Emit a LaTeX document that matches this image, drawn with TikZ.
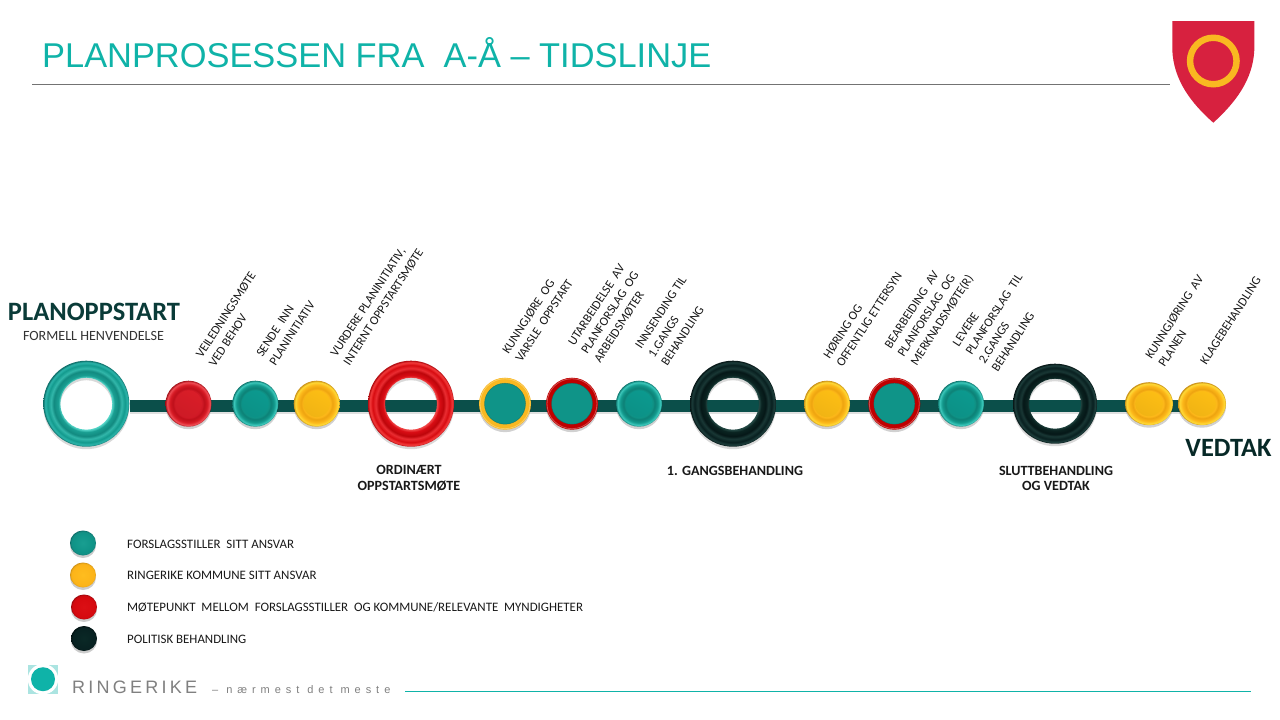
\documentclass[tikz,border=0pt]{standalone}
\usepackage{fontspec}
\setmainfont{Carlito}
\newfontfamily\titlefont{Liberation Sans}
\newfontfamily\logofont[LetterSpace=18]{Liberation Sans}
\newfontfamily\logosmall[LetterSpace=45]{Liberation Sans}
\usetikzlibrary{shapes.geometric}
\definecolor{trackc}{HTML}{0B4F4A}
\definecolor{titlec}{HTML}{0FB3A8}
\definecolor{darkt}{HTML}{0A3B38}
\definecolor{shieldred}{HTML}{D7213F}
\definecolor{shieldyel}{HTML}{F9B821}
\definecolor{tealbase}{HTML}{0F9488}
\pgfdeclareradialshading{tealbtn}{\pgfpointorigin}{
 rgb(0bp)=(0.06,0.58,0.53);rgb(15bp)=(0.06,0.58,0.53);
 rgb(17bp)=(0.05,0.50,0.46);rgb(20.5bp)=(0.07,0.60,0.55);
 rgb(23.5bp)=(0.25,0.80,0.75);rgb(25bp)=(0.05,0.45,0.42);rgb(50bp)=(0.05,0.45,0.42)}
\pgfdeclareradialshading{yelbtn}{\pgfpointorigin}{
 rgb(0bp)=(0.99,0.72,0.10);rgb(15bp)=(0.99,0.72,0.10);
 rgb(17bp)=(0.93,0.64,0.06);rgb(20.5bp)=(0.99,0.72,0.10);
 rgb(23.5bp)=(1.0,0.86,0.22);rgb(25bp)=(0.78,0.55,0.08);rgb(50bp)=(0.78,0.55,0.08)}
\pgfdeclareradialshading{redbtn}{\pgfpointorigin}{
 rgb(0bp)=(0.82,0.10,0.15);rgb(15bp)=(0.82,0.10,0.15);
 rgb(17bp)=(0.74,0.06,0.10);rgb(20.5bp)=(0.84,0.10,0.14);
 rgb(23.5bp)=(0.95,0.32,0.35);rgb(25bp)=(0.62,0.05,0.08);rgb(50bp)=(0.62,0.05,0.08)}
\pgfdeclareradialshading{tealball}{\pgfpointorigin}{
 rgb(0bp)=(0.10,0.62,0.57);rgb(19bp)=(0.06,0.58,0.53);rgb(23bp)=(0.08,0.56,0.52);rgb(25bp)=(0.04,0.42,0.40);rgb(50bp)=(0.04,0.42,0.40)}
\pgfdeclareradialshading{yelball}{\pgfpointorigin}{
 rgb(0bp)=(1.0,0.74,0.12);rgb(19bp)=(0.99,0.71,0.10);rgb(23bp)=(0.98,0.70,0.10);rgb(25bp)=(0.80,0.56,0.08);rgb(50bp)=(0.80,0.56,0.08)}
\pgfdeclareradialshading{redball}{\pgfpointorigin}{
 rgb(0bp)=(0.86,0.06,0.08);rgb(19bp)=(0.84,0.04,0.06);rgb(23bp)=(0.82,0.04,0.06);rgb(25bp)=(0.60,0.03,0.05);rgb(50bp)=(0.60,0.03,0.05)}
\pgfdeclareradialshading{blkball}{\pgfpointorigin}{
 rgb(0bp)=(0.04,0.16,0.15);rgb(22bp)=(0.03,0.13,0.13);rgb(25bp)=(0.01,0.07,0.07);rgb(50bp)=(0.01,0.07,0.07)}
\pgfdeclareradialshading{tealring}{\pgfpointorigin}{
 rgb(0bp)=(0.35,0.85,0.80);rgb(15bp)=(0.35,0.85,0.80);
 rgb(16.5bp)=(0.10,0.62,0.57);rgb(19bp)=(0.07,0.54,0.50);
 rgb(20.5bp)=(0.20,0.72,0.67);rgb(22.5bp)=(0.07,0.60,0.55);
 rgb(24bp)=(0.18,0.72,0.68);rgb(25bp)=(0.05,0.42,0.40);rgb(50bp)=(0.05,0.42,0.40)}
\pgfdeclareradialshading{redring}{\pgfpointorigin}{
 rgb(0bp)=(0.95,0.30,0.30);rgb(15bp)=(0.95,0.30,0.30);
 rgb(16.5bp)=(0.85,0.05,0.08);rgb(19bp)=(0.74,0.02,0.04);
 rgb(20.5bp)=(0.92,0.18,0.20);rgb(22.5bp)=(0.84,0.04,0.06);
 rgb(24bp)=(0.97,0.25,0.25);rgb(25bp)=(0.68,0.03,0.05);rgb(50bp)=(0.68,0.03,0.05)}
\pgfdeclareradialshading{blkring}{\pgfpointorigin}{
 rgb(0bp)=(0.15,0.30,0.28);rgb(15bp)=(0.15,0.30,0.28);
 rgb(16.5bp)=(0.04,0.14,0.13);rgb(19bp)=(0.02,0.09,0.09);
 rgb(20.5bp)=(0.10,0.22,0.21);rgb(22.5bp)=(0.03,0.12,0.12);
 rgb(24bp)=(0.12,0.25,0.24);rgb(25bp)=(0.02,0.08,0.08);rgb(50bp)=(0.02,0.08,0.08)}
\tikzset{
 anchornode/.style={ellipse,inner sep=0pt,minimum width=#1,minimum height=#1},
 track/.style={line width=12pt,color=trackc},
 trackshadow/.style={line width=12pt,color=black,opacity=.12},
 step label/.style={rotate=57,anchor=west,align=left,inner sep=0pt,font=\fontsize{12.5}{15.5}\selectfont,text=black!90},
 big label/.style={align=center,inner sep=0pt,font=\fontsize{14.1}{15.5}\selectfont\bfseries,text=black!90},
 legend text/.style={anchor=west,inner sep=0pt,font=\fontsize{12.9}{14}\selectfont,text=black!90},
}
% #1 node  #2 rx #3 ry #4 shading #5 highlight colour
\newcommand\btnshape[5]{%
 \fill[black,opacity=.18] ([yshift=-2.5pt]#1.center) ellipse ({#2pt} and {#3pt});
 \shade[shading=#4] (#1.center) ellipse ({#2pt} and {#3pt});
 \shade[top color=#5,bottom color=#5!75!black,opacity=.18,shading angle=-30] (#1.center) ellipse ({0.58*#2pt} and {0.58*#3pt});
}
\newcommand\ballshape[4]{%
 \fill[black,opacity=.2] ([yshift=-2.5pt]#1.center) ellipse ({#2pt} and {#3pt});
 \shade[shading=#4] (#1.center) ellipse ({#2pt} and {#3pt});
}
\newcommand\ringshape[6]{% node rx ry irx iry shading
 \fill[black,opacity=.15,even odd rule] ([yshift=-2.5pt]#1.center) ellipse ({#2pt} and {#3pt}) ([yshift=-2.5pt]#1.center) ellipse ({#4pt} and {#5pt});
 \shade[shading=#6,even odd rule] (#1.center) ellipse ({#2pt} and {#3pt}) (#1.center) ellipse ({#4pt} and {#5pt});
}
\newcommand\ringedbtn[2]{% node, rim colour
 \fill[black,opacity=.18] ([yshift=-2.5pt]#1.center) circle (26pt);
 \fill[#2] (#1.center) circle (26pt);
 \draw[white,opacity=.3,line width=.8pt] (#1.center) circle (25pt);
 \fill[tealbase] (#1.center) circle (20.5pt);
 \draw[tealbase!70!black,line width=.5pt,opacity=.6] (#1.center) circle (20.5pt);
}
\begin{document}
\begin{tikzpicture}[x=1pt,y=-1pt]
\useasboundingbox (0,0) rectangle (1280,720);
\fill[white] (0,0) rectangle (1280,720);
% title and header
\node[anchor=west,inner sep=0pt,text=titlec,font=\titlefont\fontsize{34.4}{36}\selectfont] (title) at (42,52.5) {PLANPROSESSEN FRA\ \ A-Å – TIDSLINJE};
\coordinate (hl) at (32,84.5); \coordinate (hr) at (1170,84.5);
\draw[black!55,line width=.8pt] (hl) -- (hr);
% shield
\fill[shieldred] (1172.3,21) -- (1254.3,21) -- (1254.3,50) .. controls (1253,80) and (1235,103) .. (1213.3,122.7) .. controls (1191,103) and (1173.5,80) .. (1172.3,50) -- cycle;
\fill[shieldyel,even odd rule] (1213.3,61) circle (26.5) (1213.3,61) circle (20);
% anchor nodes
\node[anchornode=86pt] (r1) at (86.3,403.7) {};
\node[anchornode=46pt] (b1) at (188.5,403.7) {};
\node[anchornode=46pt] (b2) at (255.3,403.7) {};
\node[anchornode=46pt] (b3) at (316.7,403.7) {};
\node[anchornode=86pt] (r2) at (411,403.7) {};
\node[anchornode=52pt] (b4) at (505,403.7) {};
\node[anchornode=52pt] (b5) at (572,403.7) {};
\node[anchornode=46pt] (b6) at (639,403.7) {};
\node[anchornode=86pt] (r3) at (733,403.7) {};
\node[anchornode=46pt] (b7) at (827,403.7) {};
\node[anchornode=52pt] (b8) at (894.3,403.7) {};
\node[anchornode=46pt] (b9) at (961,403.7) {};
\node[anchornode=82pt] (r4) at (1055,403.7) {};
\node[anchornode=46pt] (b10) at (1149,403.7) {};
\node[anchornode=46pt] (b11) at (1202,403.7) {};
% track
\draw[trackshadow] ([yshift=-4pt]r1.east) -- ([yshift=-4pt]b11.center);
\draw[track] ([yshift=-2.3pt]r1.east) -- ([yshift=-2.3pt]b1.center) -- ([yshift=-2.3pt]b2.center) -- ([yshift=-2.3pt]b3.center) -- ([yshift=-2.3pt]r2.center) -- ([yshift=-2.3pt]b4.center) -- ([yshift=-2.3pt]b5.center) -- ([yshift=-2.3pt]b6.center) -- ([yshift=-2.3pt]r3.center) -- ([yshift=-2.3pt]b7.center) -- ([yshift=-2.3pt]b8.center) -- ([yshift=-2.3pt]b9.center) -- ([yshift=-2.3pt]r4.center) -- ([yshift=-2.3pt]b10.center) -- ([yshift=-2.3pt]b11.center);
% rings
\ringshape{r1}{43}{43}{26}{26}{tealring}
\ringshape{r2}{43}{43}{26}{26}{redring}
\ringshape{r3}{43}{43}{26}{26}{blkring}
\ringshape{r4}{42}{40}{26}{25}{blkring}
% buttons
\btnshape{b1}{23}{23}{redbtn}{red!80!white}
\btnshape{b2}{23}{23}{tealbtn}{teal!60!cyan}
\btnshape{b3}{23}{23}{yelbtn}{yellow!70!orange}
\ringedbtn{b4}{shieldyel}
\ringedbtn{b5}{red!75!black}
\btnshape{b6}{23}{23}{tealbtn}{teal!60!cyan}
\btnshape{b7}{23}{23}{yelbtn}{yellow!70!orange}
\ringedbtn{b8}{red!75!black}
\btnshape{b9}{23}{23}{tealbtn}{teal!60!cyan}
\btnshape{b10}{24}{21.5}{yelbtn}{yellow!70!orange}
\btnshape{b11}{24}{21.5}{yelbtn}{yellow!70!orange}
% headline labels
\node[inner sep=0pt,text=darkt,font=\fontsize{26.5}{28}\selectfont\bfseries] (lstart) at (94,312) {PLANOPPSTART};
\node[inner sep=0pt,text=black!80,font=\fontsize{14.1}{16}\selectfont] (lform) at (93.5,336) {FORMELL HENVENDELSE};
\node[big label] (lord) at (409,478) {ORDINÆRT\\OPPSTARTSMØTE};
\node[big label] (lg1) at (735,471) {1. GANGSBEHANDLING};
\node[big label] (lslutt) at (1056,478.5) {SLUTTBEHANDLING\\OG VEDTAK};
\node[inner sep=0pt,text=darkt!70!black,font=\fontsize{26.4}{28}\selectfont\bfseries] (lved) at (1228.5,448) {VEDTAK};
% rotated labels
\node[step label] (s1) at (205,361) {VEILEDNINGSMØTE\\VED BEHOV};
\node[step label] (s2) at (265.5,360) {SENDE\ \ INN\\PLANINITIATIV};
\node[step label] (s3) at (340,360) {VURDERE PLANINITIATIV,\\INTERNT OPPSTARTSMØTE};
\node[step label] (s4) at (511.5,356.5) {KUNNGJØRE\ \ OG\\VARSLE\ \ OPPSTART};
\node[step label] (s5) at (584,353) {UTARBEIDELSE\ \ AV\\PLANFORSLAG\ \ OG\\ARBEIDSMØTER};
\node[step label] (s6) at (651,356) {INNSENDING TIL\\1.GANGS\\BEHANDLING};
\node[step label] (s7) at (832.5,361.5) {HØRING OG\\OFFENTLIG ETTERSYN};
\node[step label] (s8) at (901,356) {BEARBEIDING\ \ AV\\PLANFORSLAG\ \ OG\\MERKNADSMØTE(R)};
\node[step label] (s9) at (975,358) {LEVERE\\PLANFORSLAG\ \ TIL\\2.GANGS\\BEHANDLING};
\node[step label] (s10) at (1154.5,361.5) {KUNNGJØRING\ \ AV\\PLANEN};
\node[step label] (s11) at (1203,363) {KLAGEBEHANDLING};
% legend
\node[anchornode=26pt] (k1) at (83,543) {};
\node[anchornode=26pt] (k2) at (83,575) {};
\node[anchornode=26pt] (k3) at (84,607) {};
\node[anchornode=26pt] (k4) at (84,638.5) {};
\ballshape{k1}{13}{12.5}{tealball}
\ballshape{k2}{13}{12.5}{yelball}
\ballshape{k3}{13}{12.5}{redball}
\ballshape{k4}{13}{12.5}{blkball}
\node[legend text] (t1) at (127,544) {FORSLAGSSTILLER\ \ SITT ANSVAR};
\node[legend text] (t2) at (127,575) {RINGERIKE KOMMUNE\ SITT ANSVAR};
\node[legend text] (t3) at (127,607) {MØTEPUNKT\ \ MELLOM\ \ FORSLAGSSTILLER\ \ OG KOMMUNE/RELEVANTE\ \ MYNDIGHETER};
\node[legend text] (t4) at (127,639) {POLITISK BEHANDLING};
% logo
\fill[titlec!35!white] (28,664.5) rectangle (58,694);
\fill[white] (43,679.2) circle (15.2);
\fill[titlec] (43,679.2) circle (12);
\node[anchor=base west,inner sep=0pt,text=black!50,font=\logofont\fontsize{18}{20}\selectfont] (lg) at (72,693.5) {RINGERIKE};
\node[anchor=base west,inner sep=0pt,text=black!50,font=\logosmall\fontsize{11}{13}\selectfont] (lgs) at (212,693) {– nærmest det meste};
\coordinate (fl) at (405,691); \coordinate (fr) at (1251,691);
\draw[titlec,line width=.7pt] (fl) -- (fr);
\end{tikzpicture}
\end{document}
